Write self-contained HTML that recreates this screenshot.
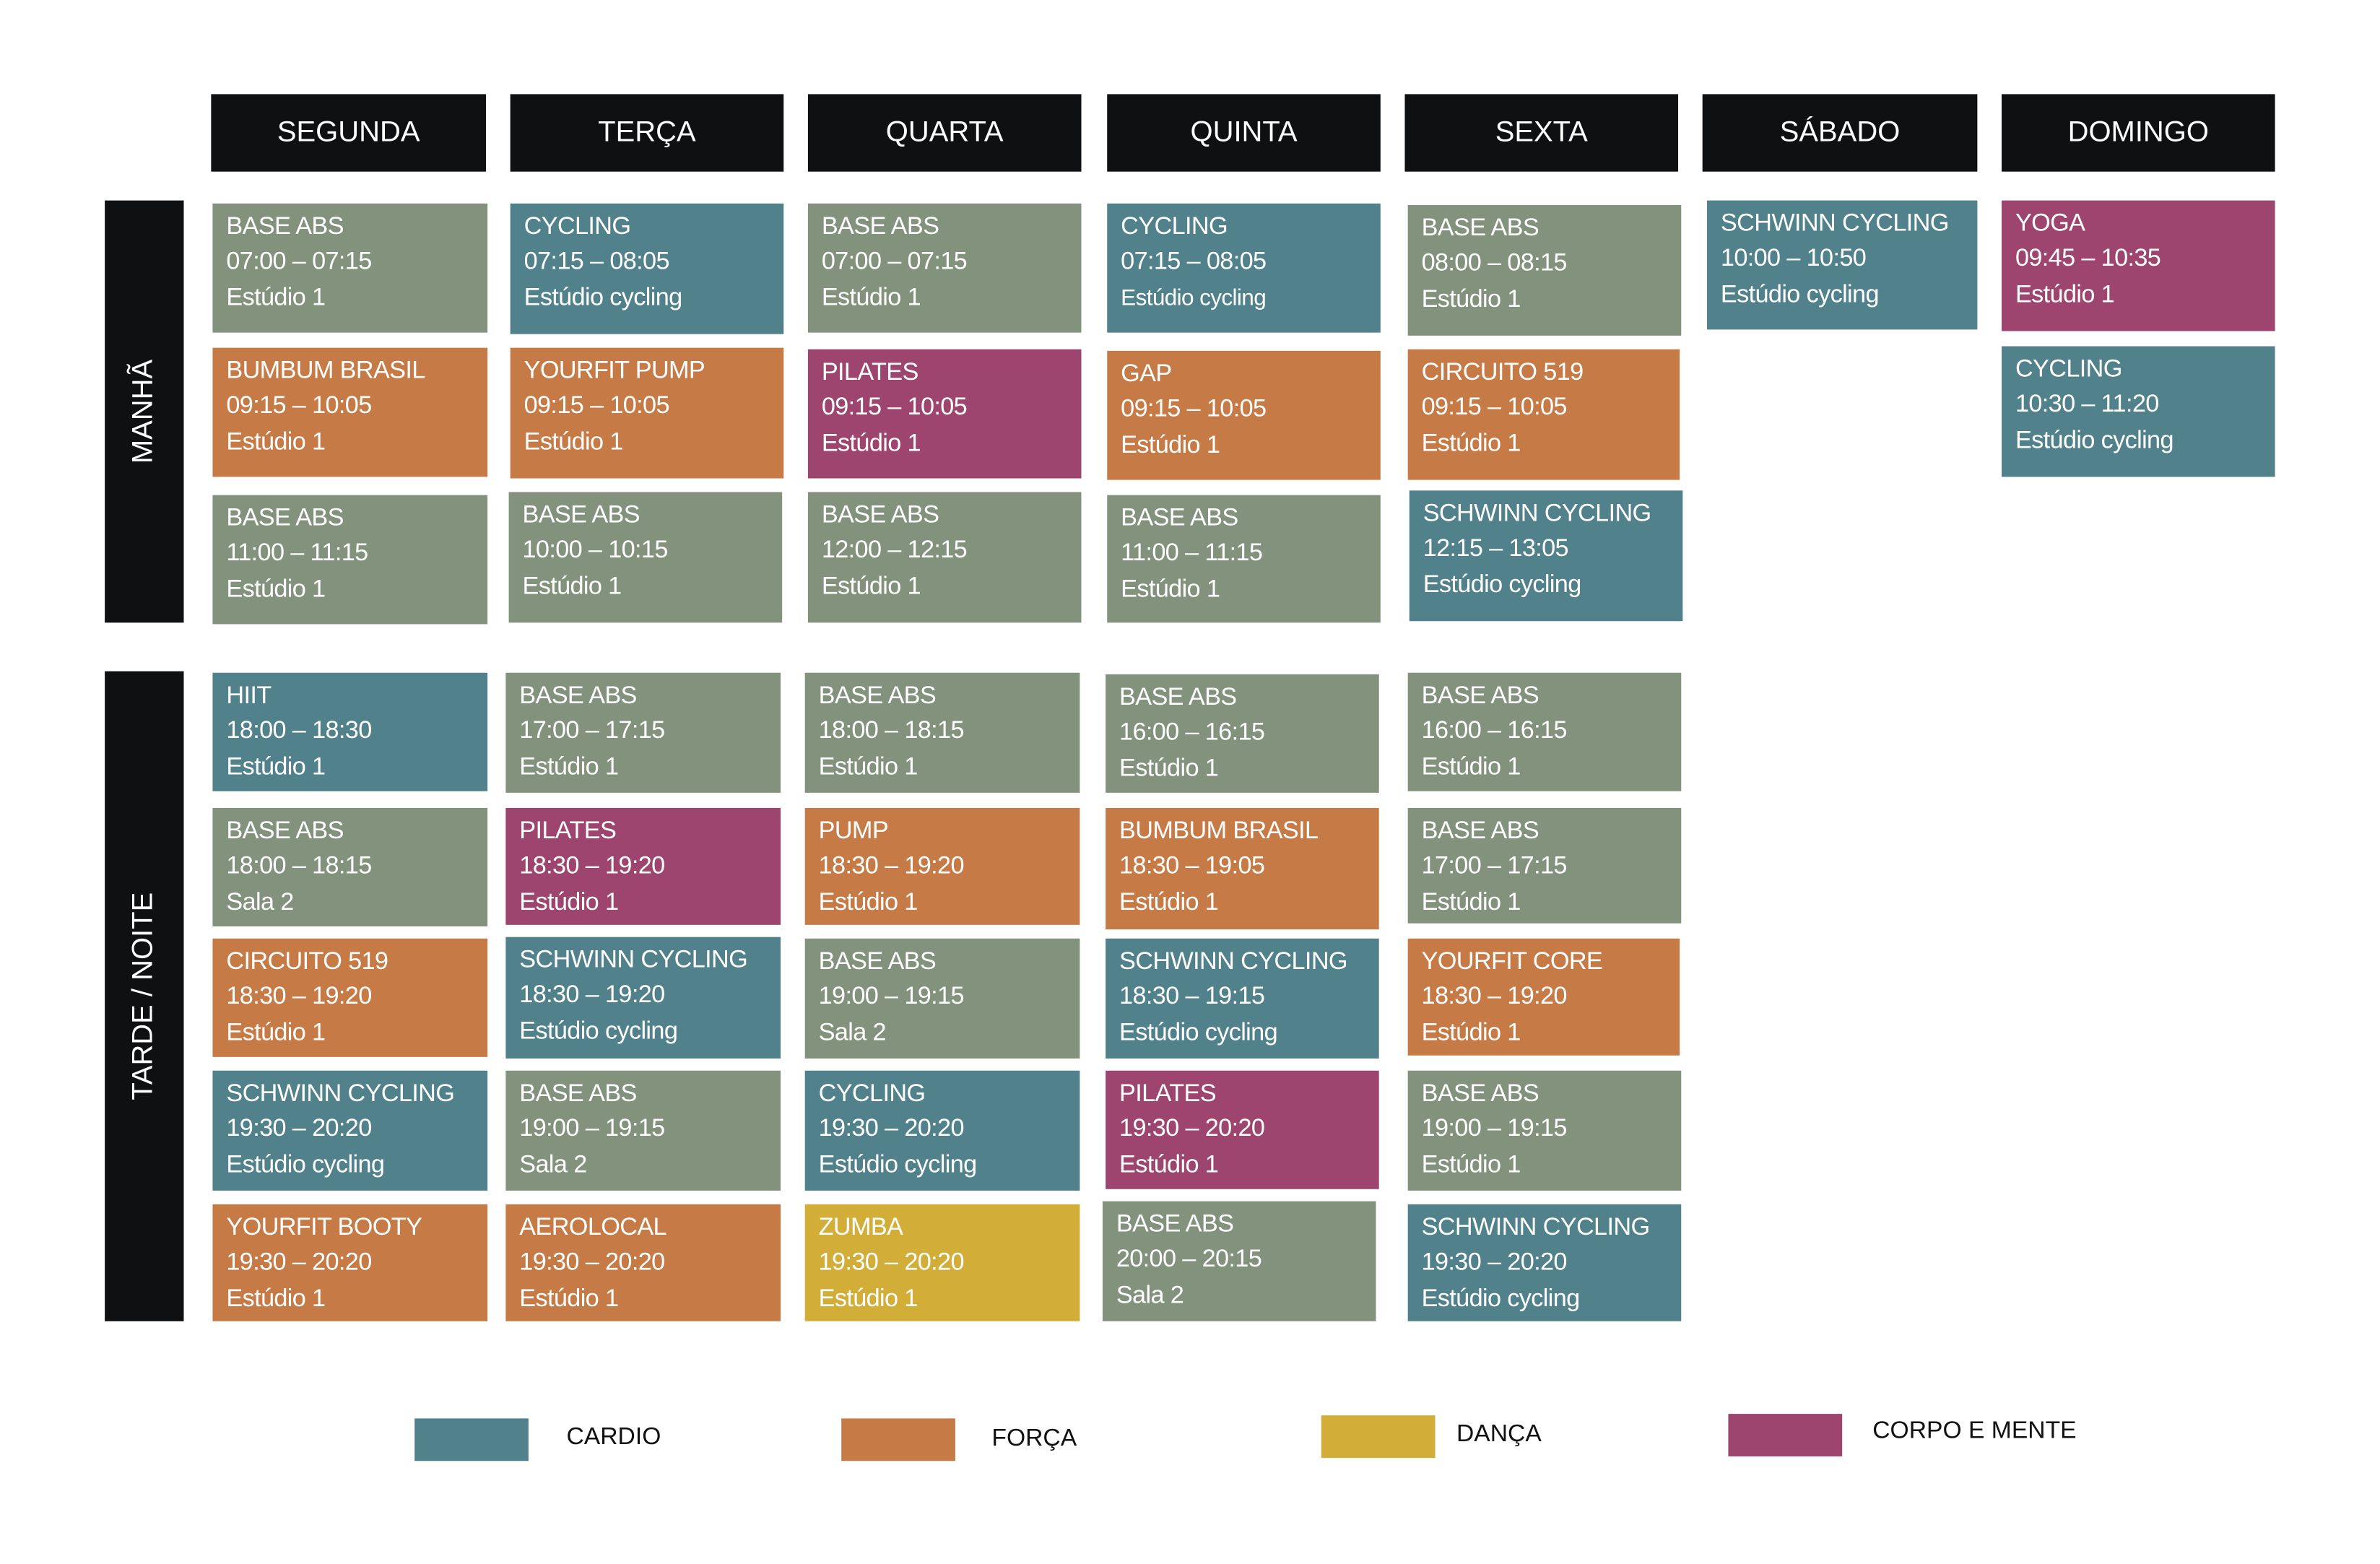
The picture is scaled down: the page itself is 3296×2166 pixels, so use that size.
<!DOCTYPE html>
<html><head><meta charset="utf-8"><style>
html,body{margin:0;padding:0;background:#fff;}
body{width:3296px;height:2165px;overflow:hidden;position:relative;}
#w{position:absolute;left:0;top:0;width:1570px;height:1030px;transform:scale(2.1032);transform-origin:0 0;font-family:"Liberation Sans",sans-serif;}
.h{position:absolute;top:62px;height:51px;background:#0f1012;color:#fff;font-size:19px;text-align:center;line-height:51px;}
.c{position:absolute;color:#fff;font-size:16.3px;line-height:23.3px;padding:4px 0 0 9px;box-sizing:border-box;white-space:nowrap;letter-spacing:-0.3px;}
.g{background:#82927c}.b{background:#51818b}.o{background:#c67b47}.p{background:#9d456e}.y{background:#d2ae38}
.s{position:absolute;left:69px;width:52px;background:#0f1012;}
.s span{position:absolute;left:50%;top:50%;transform:translate(-50%,-50%) rotate(-90deg);color:#fff;font-size:19px;white-space:nowrap;}
.lg{position:absolute;width:75px;height:28px;}
.lt{position:absolute;font-size:16px;color:#111;}
</style></head><body><div id="w">
<div class="h" style="left:139px;width:181px">SEGUNDA</div>
<div class="h" style="left:336px;width:180px">TERÇA</div>
<div class="h" style="left:532px;width:180px">QUARTA</div>
<div class="h" style="left:729px;width:180px">QUINTA</div>
<div class="h" style="left:925px;width:180px">SEXTA</div>
<div class="h" style="left:1121px;width:181px">SÁBADO</div>
<div class="h" style="left:1318px;width:180px">DOMINGO</div>
<div class="s" style="top:132px;height:278px"><span>MANHÃ</span></div>
<div class="s" style="top:442px;height:428px"><span>TARDE / NOITE</span></div>

<div class="c g" style="left:140px;top:134px;width:181px;height:85px">BASE ABS<br>07:00 – 07:15<br>Estúdio 1</div>
<div class="c o" style="left:140px;top:229px;width:181px;height:85px">BUMBUM BRASIL<br>09:15 – 10:05<br>Estúdio 1</div>
<div class="c g" style="left:140px;top:326px;width:181px;height:85px">BASE ABS<br>11:00 – 11:15<br>Estúdio 1</div>
<div class="c b" style="left:140px;top:443px;width:181px;height:78px">HIIT<br>18:00 – 18:30<br>Estúdio 1</div>
<div class="c g" style="left:140px;top:532px;width:181px;height:78px">BASE ABS<br>18:00 – 18:15<br>Sala 2</div>
<div class="c o" style="left:140px;top:618px;width:181px;height:78px">CIRCUITO 519<br>18:30 – 19:20<br>Estúdio 1</div>
<div class="c b" style="left:140px;top:705px;width:181px;height:79px">SCHWINN CYCLING<br>19:30 – 20:20<br>Estúdio cycling</div>
<div class="c o" style="left:140px;top:793px;width:181px;height:77px">YOURFIT BOOTY<br>19:30 – 20:20<br>Estúdio 1</div>

<div class="c b" style="left:336px;top:134px;width:180px;height:86px">CYCLING<br>07:15 – 08:05<br>Estúdio cycling</div>
<div class="c o" style="left:336px;top:229px;width:180px;height:86px">YOURFIT PUMP<br>09:15 – 10:05<br>Estúdio 1</div>
<div class="c g" style="left:335px;top:324px;width:180px;height:86px">BASE ABS<br>10:00 – 10:15<br>Estúdio 1</div>
<div class="c g" style="left:333px;top:443px;width:181px;height:79px">BASE ABS<br>17:00 – 17:15<br>Estúdio 1</div>
<div class="c p" style="left:333px;top:532px;width:181px;height:77px">PILATES<br>18:30 – 19:20<br>Estúdio 1</div>
<div class="c b" style="left:333px;top:617px;width:181px;height:80px">SCHWINN CYCLING<br>18:30 – 19:20<br>Estúdio cycling</div>
<div class="c g" style="left:333px;top:705px;width:181px;height:79px">BASE ABS<br>19:00 – 19:15<br>Sala 2</div>
<div class="c o" style="left:333px;top:793px;width:181px;height:77px">AEROLOCAL<br>19:30 – 20:20<br>Estúdio 1</div>

<div class="c g" style="left:532px;top:134px;width:180px;height:85px">BASE ABS<br>07:00 – 07:15<br>Estúdio 1</div>
<div class="c p" style="left:532px;top:230px;width:180px;height:85px">PILATES<br>09:15 – 10:05<br>Estúdio 1</div>
<div class="c g" style="left:532px;top:324px;width:180px;height:86px">BASE ABS<br>12:00 – 12:15<br>Estúdio 1</div>
<div class="c g" style="left:530px;top:443px;width:181px;height:79px">BASE ABS<br>18:00 – 18:15<br>Estúdio 1</div>
<div class="c o" style="left:530px;top:532px;width:181px;height:77px">PUMP<br>18:30 – 19:20<br>Estúdio 1</div>
<div class="c g" style="left:530px;top:618px;width:181px;height:79px">BASE ABS<br>19:00 – 19:15<br>Sala 2</div>
<div class="c b" style="left:530px;top:705px;width:181px;height:79px">CYCLING<br>19:30 – 20:20<br>Estúdio cycling</div>
<div class="c y" style="left:530px;top:793px;width:181px;height:77px">ZUMBA<br>19:30 – 20:20<br>Estúdio 1</div>

<div class="c b" style="left:729px;top:134px;width:180px;height:85px">CYCLING<br>07:15 – 08:05<br><span style="font-size:15px">Estúdio cycling</span></div>
<div class="c o" style="left:729px;top:231px;width:180px;height:85px">GAP<br>09:15 – 10:05<br>Estúdio 1</div>
<div class="c g" style="left:729px;top:326px;width:180px;height:84px">BASE ABS<br>11:00 – 11:15<br>Estúdio 1</div>
<div class="c g" style="left:728px;top:444px;width:180px;height:78px">BASE ABS<br>16:00 – 16:15<br>Estúdio 1</div>
<div class="c o" style="left:728px;top:532px;width:180px;height:80px">BUMBUM BRASIL<br>18:30 – 19:05<br>Estúdio 1</div>
<div class="c b" style="left:728px;top:618px;width:180px;height:79px">SCHWINN CYCLING<br>18:30 – 19:15<br>Estúdio cycling</div>
<div class="c p" style="left:728px;top:705px;width:180px;height:78px">PILATES<br>19:30 – 20:20<br>Estúdio 1</div>
<div class="c g" style="left:726px;top:791px;width:180px;height:79px">BASE ABS<br>20:00 – 20:15<br>Sala 2</div>

<div class="c g" style="left:927px;top:135px;width:180px;height:86px">BASE ABS<br>08:00 – 08:15<br>Estúdio 1</div>
<div class="c o" style="left:927px;top:230px;width:179px;height:86px">CIRCUITO 519<br>09:15 – 10:05<br>Estúdio 1</div>
<div class="c b" style="left:928px;top:323px;width:180px;height:86px">SCHWINN CYCLING<br>12:15 – 13:05<br>Estúdio cycling</div>
<div class="c g" style="left:927px;top:443px;width:180px;height:78px">BASE ABS<br>16:00 – 16:15<br>Estúdio 1</div>
<div class="c g" style="left:927px;top:532px;width:180px;height:76px">BASE ABS<br>17:00 – 17:15<br>Estúdio 1</div>
<div class="c o" style="left:927px;top:618px;width:179px;height:77px">YOURFIT CORE<br>18:30 – 19:20<br>Estúdio 1</div>
<div class="c g" style="left:927px;top:705px;width:180px;height:79px">BASE ABS<br>19:00 – 19:15<br>Estúdio 1</div>
<div class="c b" style="left:927px;top:793px;width:180px;height:77px">SCHWINN CYCLING<br>19:30 – 20:20<br>Estúdio cycling</div>

<div class="c b" style="left:1124px;top:132px;width:178px;height:85px">SCHWINN CYCLING<br>10:00 – 10:50<br>Estúdio cycling</div>
<div class="c p" style="left:1318px;top:132px;width:180px;height:86px">YOGA<br>09:45 – 10:35<br>Estúdio 1</div>
<div class="c b" style="left:1318px;top:228px;width:180px;height:86px">CYCLING<br>10:30 – 11:20<br>Estúdio cycling</div>

<div class="lg b" style="left:273px;top:934px"></div><div class="lt" style="left:373px;top:938px">CARDIO</div>
<div class="lg o" style="left:554px;top:934px"></div><div class="lt" style="left:653px;top:939px">FORÇA</div>
<div class="lg y" style="left:870px;top:932px"></div><div class="lt" style="left:959px;top:936px">DANÇA</div>
<div class="lg p" style="left:1138px;top:931px"></div><div class="lt" style="left:1233px;top:934px">CORPO E MENTE</div>
</div></body></html>
